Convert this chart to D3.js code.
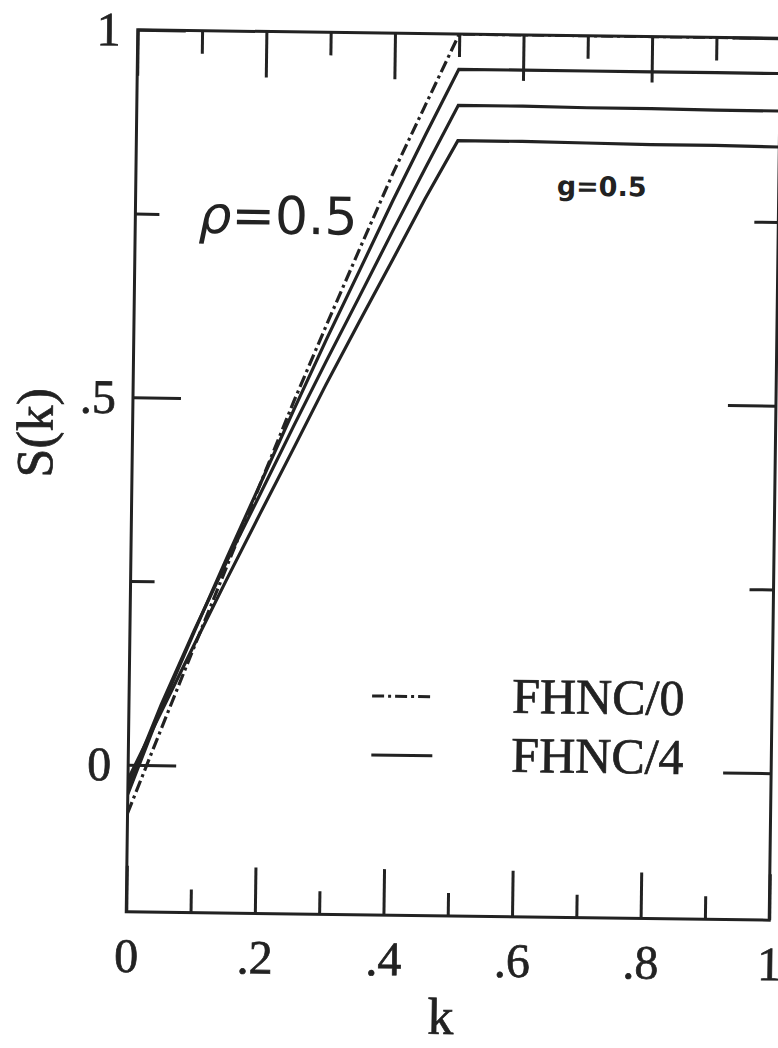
<!DOCTYPE html>
<html>
<head>
<meta charset="utf-8">
<script src="https://cdn.jsdelivr.net/npm/d3@7"></script>
<style>
  body { margin: 0; background: #fff; }
  svg { display: block; }
</style>
</head>
<body>
<svg id="chart" width="778" height="1048"></svg>
<script>
// tick values and labels
var kMajor = [0, 0.2, 0.4, 0.6, 0.8, 1];
var kMajorLabels = ["0", ".2", ".4", ".6", ".8", "1"];
var kMinor = [0.1, 0.3, 0.5, 0.7, 0.9];
var sMajor = [0, 0.5, 1];
var sMajorLabels = ["0", ".5", "1"];
var sMinor = [0.25, 0.75];

// k grid shared by all curves
var kGrid = [0, 0.05, 0.1, 0.15, 0.2, 0.25, 0.3, 0.35, 0.4, 0.45, 0.5, 0.6, 0.7, 0.8, 0.9, 1.0];

// FHNC/0 (dash-dot)
var fhnc0 = [-0.066, 0.048, 0.161, 0.273, 0.385, 0.497, 0.603, 0.707, 0.81, 0.905, 1.0, 1.0, 1.0, 1.0, 1.0, 1.0];
// FHNC/4 (solid), three curves
var fhnc4a = [-0.04, 0.077, 0.182, 0.285, 0.385, 0.485, 0.583, 0.677, 0.772, 0.863, 0.952, 0.952, 0.952, 0.952, 0.952, 0.952];
var fhnc4b = [-0.03, 0.082, 0.184, 0.28, 0.371, 0.463, 0.553, 0.641, 0.73, 0.817, 0.903, 0.903, 0.902, 0.902, 0.901, 0.901];
var fhnc4c = [-0.02, 0.072, 0.164, 0.255, 0.344, 0.432, 0.521, 0.606, 0.69, 0.775, 0.855, 0.855, 0.854, 0.853, 0.853, 0.852];

var seriesNames = ["FHNC/0", "FHNC/4"];

var ink = "#222";
var serif = "Liberation Serif, serif";
var svg = d3.select("#chart"),
    margin = {top: 34, right: 3, bottom: 132, left: 132},
    width = +svg.attr("width") - margin.left - margin.right,
    height = +svg.attr("height") - margin.top - margin.bottom;

// the scanned page is turned slightly clockwise
var g = svg.append("g")
    .attr("transform", "rotate(0.75,453.5,475) translate(" + margin.left + "," + margin.top + ")");

var x = d3.scaleLinear().domain([0, 1]).range([0, width]);
var y = d3.scaleLinear().domain([-0.2, 1]).range([height, 0]);

g.append("clipPath").attr("id", "frame")
  .append("rect")
    .attr("width", width)
    .attr("height", height);

function styleAxis(sel) {
  sel.select(".domain").remove();
  sel.selectAll("line").attr("stroke", ink).attr("stroke-width", 3);
  sel.selectAll("text")
      .attr("fill", ink)
      .attr("stroke", ink)
      .attr("stroke-width", 0.7)
      .attr("font-family", serif)
      .attr("font-size", 48);
}

// bottom
g.append("g").attr("transform", "translate(0," + height + ")")
    .call(d3.axisBottom(x).tickValues(kMajor).tickSize(-46).tickPadding(26)
      .tickFormat(function(d, i) { return kMajorLabels[i]; }))
    .call(styleAxis);
g.append("g").attr("transform", "translate(0," + height + ")")
    .call(d3.axisBottom(x).tickValues(kMinor).tickSize(-23).tickFormat(""))
    .call(styleAxis);
// top
g.append("g")
    .call(d3.axisTop(x).tickValues(kMajor).tickSize(-46).tickFormat(""))
    .call(styleAxis);
g.append("g")
    .call(d3.axisTop(x).tickValues(kMinor).tickSize(-23).tickFormat(""))
    .call(styleAxis);
// left
g.append("g")
    .call(d3.axisLeft(y).tickValues(sMajor).tickSize(-48).tickPadding(17)
      .tickFormat(function(d, i) { return sMajorLabels[i]; }))
    .call(styleAxis);
g.append("g")
    .call(d3.axisLeft(y).tickValues(sMinor).tickSize(-24).tickFormat(""))
    .call(styleAxis);
// right
g.append("g").attr("transform", "translate(" + width + ",0)")
    .call(d3.axisRight(y).tickValues(sMajor).tickSize(-48).tickFormat(""))
    .call(styleAxis);
g.append("g").attr("transform", "translate(" + width + ",0)")
    .call(d3.axisRight(y).tickValues(sMinor).tickSize(-24).tickFormat(""))
    .call(styleAxis);

g.append("rect")
    .attr("width", width)
    .attr("height", height)
    .attr("fill", "none")
    .attr("stroke", ink)
    .attr("stroke-width", 3);

var line = d3.line()
    .x(function(d) { return x(d[0]); })
    .y(function(d) { return y(d[1]); });

var curves = [
  {values: fhnc0, dash: "12,4,3,4"},
  {values: fhnc4a, dash: null},
  {values: fhnc4b, dash: null},
  {values: fhnc4c, dash: null}
];

g.append("g")
    .attr("clip-path", "url(#frame)")
  .selectAll("path")
  .data(curves)
  .enter().append("path")
    .attr("d", function(c) { return line(kGrid.map(function(k, i) { return [k, c.values[i]]; })); })
    .attr("fill", "none")
    .attr("stroke", ink)
    .attr("stroke-width", 3.2)
    .attr("stroke-dasharray", function(c) { return c.dash; });

// axis titles
g.append("text")
    .attr("x", width / 2 - 6)
    .attr("y", height + 118)
    .attr("text-anchor", "middle")
    .attr("font-family", serif)
    .attr("font-size", 52)
    .attr("fill", ink)
    .attr("stroke", ink)
    .attr("stroke-width", 0.7)
    .text("k");

g.append("text")
    .attr("transform", "translate(-80," + y(0.45) + ") rotate(-90)")
    .attr("text-anchor", "middle")
    .attr("font-family", serif)
    .attr("font-size", 52)
    .attr("fill", ink)
    .attr("stroke", ink)
    .attr("stroke-width", 0.7)
    .text("S(k)");

// annotations
var rho = g.append("text")
    .attr("x", 63)
    .attr("y", 202)
    .attr("font-family", "DejaVu Sans, sans-serif")
    .attr("font-size", 52)
    .attr("fill", ink);
rho.append("tspan").attr("font-style", "italic").text("\u03C1");
rho.append("tspan").text("=0.5");

g.append("text")
    .attr("x", 421)
    .attr("y", 160)
    .attr("font-family", "DejaVu Sans, sans-serif")
    .attr("font-weight", "bold")
    .attr("font-size", 27)
    .attr("fill", ink)
    .text("g=0.5");

// legend
var legend = g.append("g")
  .selectAll("g")
  .data(seriesNames)
  .enter().append("g")
    .attr("transform", function(d, i) { return "translate(243," + (663 + i * 59) + ")"; });

legend.append("line")
    .attr("x1", 0)
    .attr("x2", 61)
    .attr("stroke", ink)
    .attr("stroke-width", 3)
    .attr("stroke-dasharray", function(d, i) { return i === 0 ? curves[0].dash : null; });

legend.append("text")
    .attr("x", 140)
    .attr("y", 15)
    .attr("font-family", serif)
    .attr("font-size", 50)
    .attr("fill", ink)
    .attr("stroke", ink)
    .attr("stroke-width", 0.7)
    .text(function(d) { return d; });
</script>
</body>
</html>
